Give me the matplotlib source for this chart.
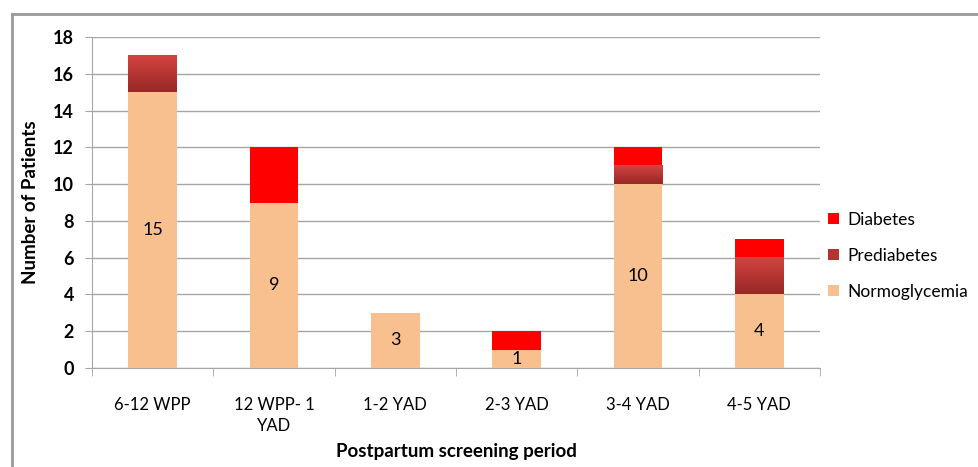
import matplotlib
matplotlib.use("Agg")
import matplotlib.pyplot as plt
import numpy as np
from matplotlib.lines import Line2D
from matplotlib.patches import Patch
from matplotlib.colors import LinearSegmentedColormap

categories = ["6-12 WPP", "12 WPP- 1\nYAD", "1-2 YAD", "2-3 YAD", "3-4 YAD", "4-5 YAD"]
normoglycemia = [15, 9, 3, 1, 10, 4]
prediabetes = [2, 0, 0, 0, 1, 2]
diabetes = [0, 3, 0, 1, 1, 1]
yticks = [0, 2, 4, 6, 8, 10, 12, 14, 16, 18]

plt.rcParams['font.family'] = ['Lato', 'DejaVu Sans']

fig = plt.figure(figsize=(9.79, 4.67), dpi=100)
ax = fig.add_axes([92/979, 1-368/467, (820-92)/979, (368-37)/467])

x = np.arange(len(categories))
w = 0.4
c_norm = '#F9C08F'
c_pre = '#B83232'
c_dia = '#FF0000'

b1 = ax.bar(x, normoglycemia, w, color=c_norm, zorder=3)
bottom2 = np.array(normoglycemia)
b2 = ax.bar(x, prediabetes, w, bottom=bottom2, color=c_pre, zorder=3)
bottom3 = bottom2 + np.array(prediabetes)
b3 = ax.bar(x, diabetes, w, bottom=bottom3, color=c_dia, zorder=3)

# gradient on prediabetes segments: darker at bottom, lighter at top
grad = np.linspace(0, 1, 64).reshape(-1, 1)
cmap = LinearSegmentedColormap.from_list('pre', ['#982827', '#D3433F'])
for p in b2:
    if p.get_height() > 0:
        x0, y0 = p.get_x(), p.get_y()
        ww, hh = p.get_width(), p.get_height()
        ax.imshow(grad, cmap=cmap, aspect='auto', extent=(x0, x0+ww, y0, y0+hh),
                  zorder=3.5, origin='lower')

for i, v in enumerate(normoglycemia):
    ax.text(x[i], v/2, str(v), ha='center', va='center', fontsize=13, zorder=5)

ax.set_xlim(-0.5, len(categories)-0.5)
ax.set_ylim(0, 18)
ax.set_yticks(yticks)
ax.set_yticklabels([str(t) for t in yticks], fontsize=13, fontweight='bold')
ax.yaxis.grid(True, color='#A6A6A6', linewidth=1, zorder=0)
ax.set_axisbelow(True)

ax.set_xticks(x)
ax.set_xticklabels(categories, fontsize=12, linespacing=1.4)
ax.tick_params(axis='x', length=0, pad=21)
ax.set_xticks(np.arange(len(categories)+1) - 0.5, minor=True)
ax.tick_params(axis='x', which='minor', length=6, color='#A6A6A6', direction='out')
ax.tick_params(axis='y', length=5, color='#A6A6A6', pad=8)

for s in ['top', 'right']:
    ax.spines[s].set_visible(False)
ax.spines['left'].set_color('#A6A6A6')
ax.spines['bottom'].set_color('#A6A6A6')

ax.set_ylabel('Number of Patients', fontsize=13.5, fontweight='bold', labelpad=10)
ax.set_xlabel('Postpartum screening period', fontsize=13.5, fontweight='bold', labelpad=6)

handles = [Patch(facecolor=c_dia), Patch(facecolor=c_pre), Patch(facecolor=c_norm)]
fig.legend(handles, ['Diabetes', 'Prediabetes', 'Normoglycemia'],
           loc='center left', bbox_to_anchor=(825/979, 1-256/467), frameon=False,
           fontsize=12.5, handlelength=0.6, handleheight=0.6, handletextpad=0.5,
           labelspacing=1.15, borderaxespad=0, borderpad=0.2)

# outer chart border
fig.add_artist(Line2D([12/979, 1], [1-14/467, 1-14/467], color='#999999', linewidth=2,
                      transform=fig.transFigure))
fig.add_artist(Line2D([12/979, 12/979], [0, 1-14/467], color='#999999', linewidth=2,
                      transform=fig.transFigure))

fig.savefig('out.png', dpi=100)
